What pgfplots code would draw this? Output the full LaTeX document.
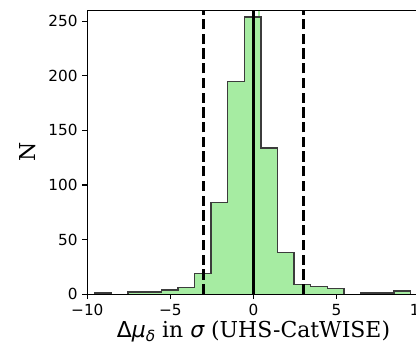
\documentclass[border=0pt]{standalone}
\usepackage{fontspec}
\setmainfont{DejaVu Serif}
\newfontfamily\dvs{DejaVu Sans}
\usepackage{pgfplots}
\pgfplotsset{compat=1.18}
\definecolor{hfill}{RGB}{166,236,162}
\definecolor{hedge}{RGB}{60,60,60}
\pgfplotstableread{
x y
-9.55 0
-9.55 1
-8.55 0
-7.55 2
-6.55 2
-5.55 4
-4.55 6
-3.55 19
-2.55 84
-1.55 195
-0.55 254
0.45 134
1.45 38
2.45 9
3.45 7
4.45 5
5.45 0
6.45 1
7.45 1
8.45 3
9.45 3
9.45 0
}\histdata
\begin{document}
\begin{tikzpicture}
\path[use as bounding box, clip] (-62.9pt,-38.7pt) rectangle (236.7pt,211.9pt);
\begin{axis}[
  at={(0,0)}, anchor=south west, scale only axis,
  width=239.3pt, height=204.5pt,
  xmin=-10, xmax=10, ymin=0, ymax=260,
  xtick={-10,-5,0,5,10}, xticklabels={−10,−5,0,5,10},
  ytick={0,50,100,150,200,250},
  tick align=outside, major tick length=3.5pt,
  tick style={black, line width=0.8pt},
  xtick pos=bottom, ytick pos=left,
  axis line style={line width=0.8pt},
  /pgf/number format/assume math mode=true,
  ticklabel style={font=\dvs\fontsize{11}{13}\selectfont},
  label style={font=\fontsize{15.8}{18}\selectfont},
  xlabel={{\dvs Δ}{\dvs\itshape μ}\raisebox{-0.35ex}{\fontsize{11}{12}\selectfont\dvs\itshape δ} in {\dvs\itshape σ} (UHS-CatWISE)},
  ylabel={N},
  xlabel style={at={(axis description cs:0.5,-0.154)}, anchor=base},
  ylabel style={at={(axis description cs:-0.18,0.5)}, anchor=center},
  axis on top,
]
\addplot[const plot, fill=hfill, draw=hedge, line width=1pt] table {\histdata} --cycle;
\addplot[hfill, line width=1.2pt] coordinates {(0.34,255) (0.34,260)};
\addplot[black, line width=2pt] coordinates {(0,0) (0,260)};
\addplot[black, line width=2pt, dash pattern=on 7.4pt off 3.2pt] coordinates {(-3,0) (-3,260)};
\addplot[black, line width=2pt, dash pattern=on 7.4pt off 3.2pt] coordinates {(3,0) (3,260)};
\end{axis}
\end{tikzpicture}
\end{document}
